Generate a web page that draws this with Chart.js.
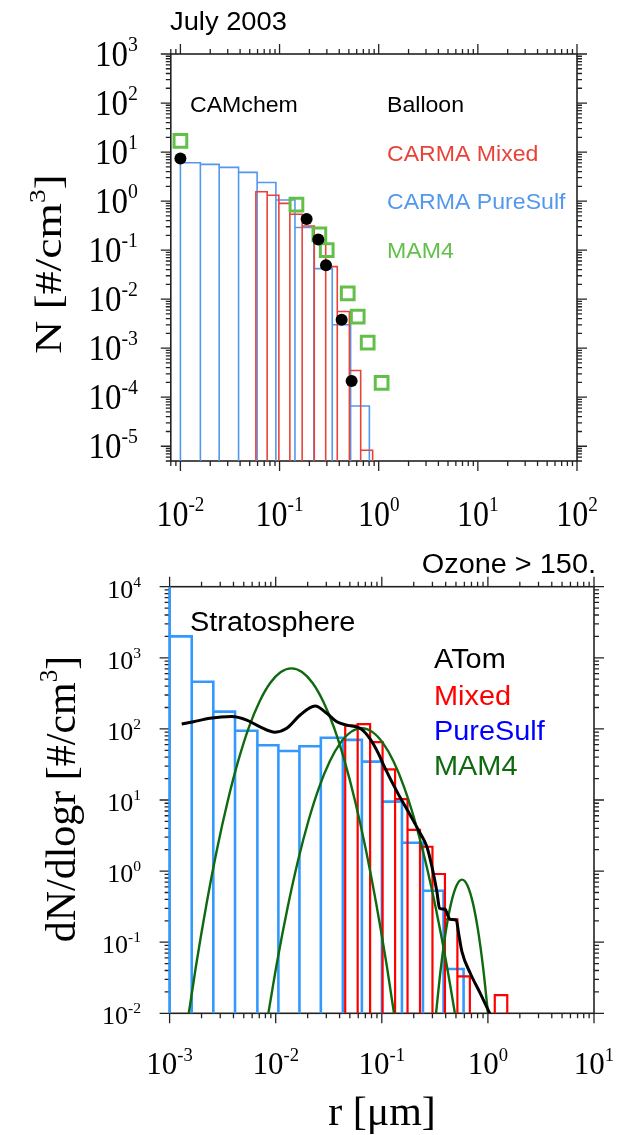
<!DOCTYPE html>
<html>
<head>
<meta charset="utf-8">
<script src="https://cdn.jsdelivr.net/npm/chart.js@4.4.1/dist/chart.umd.min.js"></script>
<style>
  html, body { margin: 0; padding: 0; background: #fff; }
  #wrap { position: relative; width: 623px; height: 1135px; }
  .panel { position: absolute; left: 0; width: 623px; }
  #topBox { top: 0; height: 540px; }
  #botBox { top: 540px; height: 595px; }
</style>
</head>
<body>
<div id="wrap">
  <div class="panel" id="topBox"><canvas id="chartTop"></canvas></div>
  <div class="panel" id="botBox"><canvas id="chartBot"></canvas></div>
</div>
<script>
// ---- July 2003, number per bin (um, #/cm3) ----
const sulfEdgesN = [0.0100, 0.0159, 0.0246, 0.0386, 0.0594, 0.0918, 0.143, 0.222, 0.340, 0.521, 0.805];
const sulfN = [6.05, 5.6, 4.86, 3.85, 2.4, 1.05, 0.29, 0.042, 0.0030, 6.6e-5];
const mixEdgesN = [0.0577, 0.0750, 0.0984, 0.127, 0.169, 0.224, 0.292, 0.382, 0.506, 0.658, 0.869];
const mixN = [1.55, 1.32, 0.90, 0.54, 0.31, 0.137, 0.046, 0.0056, 3.5e-4, 8.3e-6];
const balloonR = [0.01, 0.1875, 0.246, 0.294, 0.423, 0.533];
const balloonN = [7.4, 0.43, 0.165, 0.049, 0.0038, 2.15e-4];
const mam4R = [0.01, 0.148, 0.252, 0.299, 0.487, 0.614, 0.774, 1.07];
const mam4N = [17, 0.85, 0.209, 0.10, 0.0131, 0.0044, 0.0013, 1.96e-4];

// ---- Stratosphere, dN/dlogr (um, #/cm3) ----
const sulfEdgesD = [0.00063, 0.001, 0.001616, 0.002582, 0.004136, 0.006719, 0.0106, 0.01674,
                    0.02663, 0.04293, 0.06489, 0.1002, 0.1548, 0.2443, 0.3819, 0.59];
const sulfD = [20000, 2000, 461, 175, 94, 59, 49, 57, 75, 70, 34.6, 9.5, 2.5, 0.53, 0.042];
const mixEdgesD = [0.04519, 0.05923, 0.07762, 0.1017, 0.1334, 0.1748, 0.2291, 0.3003, 0.3936,
                   0.5158, 0.6761, 0.8861, 1.161, 1.522];
const mixD = [111, 117, 65, 27, 10.3, 3.8, 2.2, 0.91, 0.21, 0.033, 0.006, 0.003, 0.018];
const atomR = [0.0013, 0.00168, 0.0024, 0.00385, 0.00534, 0.00713, 0.00987, 0.0127, 0.017, 0.0235,
               0.0303, 0.0377, 0.0469, 0.0625, 0.0778, 0.093, 0.104, 0.139, 0.185, 0.23, 0.266,
               0.297, 0.331, 0.350, 0.396, 0.417, 0.442, 0.503, 0.530, 0.570, 0.682, 0.847, 1.04];
const atomD = [117, 126, 141, 149, 133, 107, 90, 102, 157, 210,
               166, 126, 113, 102, 72, 45, 31, 13.1, 6.15, 3.4, 2.2,
               1.15, 0.51, 0.30, 0.29, 0.24, 0.21, 0.205, 0.133, 0.073, 0.0366, 0.0191, 0.01];
const aitkenR = [0.001406, 0.00177, 0.002228, 0.002805, 0.003532, 0.004446, 0.005598, 0.007047,
                 0.008872, 0.01117, 0.01406, 0.0177, 0.02228, 0.02805, 0.03532, 0.04446, 0.05598,
                 0.07047, 0.08872, 0.1117, 0.1406];
const aitkenD = [0.0047, 0.0455, 0.345, 2.07, 9.7, 36, 106, 243, 442, 631, 711,
                 631, 442, 243, 106, 36, 9.7, 2.07, 0.345, 0.0455, 0.0047];
const accumR = [0.00813, 0.01023, 0.01288, 0.01622, 0.02042, 0.0257, 0.03236, 0.04074, 0.05129,
                0.06457, 0.08128, 0.1023, 0.1288, 0.1622, 0.2042, 0.257, 0.3236, 0.4074, 0.5129];
const accumD = [0.0065, 0.0495, 0.296, 1.40, 5.19, 15.2, 35, 63.5, 90.8, 102,
                90.8, 63.5, 35, 15.2, 5.19, 1.40, 0.296, 0.0495, 0.0065];
const coarseR = [0.3206, 0.3597, 0.4036, 0.4529, 0.5082, 0.5702, 0.6397, 0.7178, 0.8054, 0.9036, 1.0139];
const coarseD = [0.0084, 0.0425, 0.150, 0.369, 0.634, 0.759, 0.634, 0.369, 0.150, 0.0425, 0.0084];

// decade exponents that get a label
const topXExp = [-2, -1, 0, 1, 2];
const topYExp = [-5, -4, -3, -2, -1, 0, 1, 2, 3];
const botXExp = [-3, -2, -1, 0, 1];
const botYExp = [-2, -1, 0, 1, 2, 3, 4];

const SANS = "'Liberation Sans', Arial, sans-serif";
const SERIF = "'Liberation Serif', 'Times New Roman', serif";

// each bin as an open box whose sides run down past the axis
function binOutline(edges, vals) {
  const pts = [];
  vals.forEach((v, i) => {
    pts.push({x: edges[i], y: 1e-9}, {x: edges[i], y: v}, {x: edges[i + 1], y: v}, {x: edges[i + 1], y: 1e-9});
  });
  return pts;
}
const pairs = (xs, ys) => xs.map((x, i) => ({x, y: ys[i]}));

// text with optional superscript pieces: segs = [[text, isSup], ...]
function rich(ctx, segs, x, y, o) {
  const size = o.size, supSize = size * (o.supScale || 0.6);
  ctx.save();
  ctx.translate(x, y);
  if (o.rot) ctx.rotate(o.rot);
  ctx.scale(o.sx || 1, o.sy || 1);
  ctx.fillStyle = o.color || '#000';
  ctx.textBaseline = 'alphabetic';
  const fontOf = s => (s ? supSize : size) + 'px ' + o.family;
  const widths = segs.map(([t, s]) => { ctx.font = fontOf(s); return ctx.measureText(t).width; });
  const total = widths.reduce((a, b) => a + b, 0);
  let cx = o.align === 'right' ? -total : o.align === 'center' ? -total / 2 : 0;
  const base = size * (o.mid ?? 0.34);
  segs.forEach(([t, s], i) => {
    ctx.font = fontOf(s);
    ctx.fillText(t, cx, s ? base - size * 0.42 : base);
    cx += widths[i];
  });
  ctx.restore();
}
const pow10 = e => [['10', false], [String(e), true]];

function logTicks(min, max) {
  const out = [];
  for (let n = Math.floor(Math.log10(min)); n <= Math.ceil(Math.log10(max)); n++) {
    for (let m = 1; m <= 9; m++) {
      const v = m * Math.pow(10, n);
      if (v >= min * 0.9999 && v <= max * 1.0001) out.push({v, major: m === 1});
    }
  }
  return out;
}

// NCL-like frame: border plus outward ticks on all four sides
function drawFrame(chart) {
  const {ctx, chartArea: a, scales: {x, y}} = chart;
  ctx.save();
  ctx.strokeStyle = '#222';
  ctx.lineWidth = 1.6;
  ctx.strokeRect(a.left, a.top, a.right - a.left, a.bottom - a.top);
  ctx.lineWidth = 1.3;
  ctx.beginPath();
  logTicks(x.min, x.max).forEach(t => {
    const px = x.getPixelForValue(t.v), len = t.major ? 10 : 5;
    ctx.moveTo(px, a.bottom); ctx.lineTo(px, a.bottom + len);
    ctx.moveTo(px, a.top); ctx.lineTo(px, a.top - len);
  });
  logTicks(y.min, y.max).forEach(t => {
    const py = y.getPixelForValue(t.v), len = t.major ? 10 : 5;
    ctx.moveTo(a.left, py); ctx.lineTo(a.left - len, py);
    ctx.moveTo(a.right, py); ctx.lineTo(a.right + len, py);
  });
  ctx.stroke();
  ctx.restore();
}

const topDecor = {
  id: 'topDecor',
  beforeDatasetsDraw(chart) {
    const {ctx, scales: {x, y}} = chart;
    drawFrame(chart);
    topXExp.forEach(e => rich(ctx, pow10(e), x.getPixelForValue(Math.pow(10, e)), 514,
      {size: 32, sy: 1.12, family: SERIF, align: 'center'}));
    topYExp.forEach(e => rich(ctx, pow10(e), 138, y.getPixelForValue(Math.pow(10, e)),
      {size: 33, sy: 1.08, family: SERIF, align: 'right'}));
    rich(ctx, [['N [#/cm', false], ['3', true], [']', false]], 51, 264,
      {size: 38, sx: 1.2, family: SERIF, align: 'center', rot: -Math.PI / 2, mid: 0.26});
    const t = (s, px, py, color, size) =>
      rich(ctx, [[s, false]], px, py, {size: size || 22, sx: 1.05, family: SANS, color, mid: 0.36});
    t('July 2003', 170, 21, '#000', 26);
    t('CAMchem', 190, 104, '#000');
    t('Balloon', 387, 104, '#000');
    t('CARMA Mixed', 387, 153, '#e8433a');
    t('CARMA PureSulf', 387, 201, '#5398ec');
    t('MAM4', 387, 250, '#62c04a');
  }
};

const botDecor = {
  id: 'botDecor',
  beforeDatasetsDraw(chart) {
    const {ctx, scales: {x, y}} = chart;
    drawFrame(chart);
    botXExp.forEach(e => rich(ctx, pow10(e), x.getPixelForValue(Math.pow(10, e)), 523,
      {size: 31, family: SERIF, align: 'center'}));
    botYExp.forEach(e => rich(ctx, pow10(e), 141, y.getPixelForValue(Math.pow(10, e)) + 2,
      {size: 26, family: SERIF, align: 'right'}));
    rich(ctx, [['dN/dlogr [#/cm', false], ['3', true], [']', false]], 64, 259,
      {size: 42, family: SERIF, align: 'center', rot: -Math.PI / 2, mid: 0.26});
    rich(ctx, [['r [\u03bcm]', false]], 382, 573,
      {size: 40, sx: 1.05, family: SERIF, align: 'center', mid: 0.3});
    const t = (s, px, py, color, align) =>
      rich(ctx, [[s, false]], px, py, {size: 27, sx: 1.07, family: SANS, color, align, mid: 0.36});
    t('Ozone > 150.', 596, 23, '#000', 'right');
    t('Stratosphere', 190, 81, '#000');
    t('ATom', 434, 118, '#000');
    t('Mixed', 434, 155, '#ff0000');
    t('PureSulf', 434, 190, '#0000ff');
    t('MAM4', 434, 225, '#0f6a0f');
  }
};

const lineBase = {type: 'line', pointRadius: 0, pointHoverRadius: 0, fill: false, tension: 0,
                  borderJoinStyle: 'miter'};
const common = {
  responsive: true,
  maintainAspectRatio: false,
  animation: false,
  devicePixelRatio: 1,
  events: [],
  plugins: {legend: {display: false}, tooltip: {enabled: false}, title: {display: false}}
};

new Chart(document.getElementById('chartTop'), {
  type: 'line',
  data: {
    datasets: [
      {type: 'line', label: 'Balloon', data: pairs(balloonR, balloonN), showLine: false,
       pointStyle: 'circle', pointRadius: 6, backgroundColor: '#000', borderColor: '#000', borderWidth: 0},
      {type: 'line', label: 'MAM4', data: pairs(mam4R, mam4N), showLine: false,
       pointStyle: 'rect', pointRadius: 9, backgroundColor: 'rgba(0,0,0,0)', borderColor: '#62c04a', borderWidth: 3},
      {...lineBase, label: 'CARMA Mixed', data: binOutline(mixEdgesN, mixN), borderColor: '#e8433a', borderWidth: 1.6},
      {...lineBase, label: 'CARMA PureSulf', data: binOutline(sulfEdgesN, sulfN), borderColor: '#5398ec', borderWidth: 1.6}
    ]
  },
  options: {
    ...common,
    layout: {padding: {left: 170.8, right: 46, top: 54, bottom: 79}},
    scales: {
      x: {type: 'logarithmic', min: 0.008, max: 100, display: false},
      y: {type: 'logarithmic', min: 5e-6, max: 1000, display: false}
    }
  },
  plugins: [topDecor]
});

new Chart(document.getElementById('chartBot'), {
  type: 'line',
  data: {
    datasets: [
      {...lineBase, label: 'ATom', data: pairs(atomR, atomD), borderColor: '#000', borderWidth: 3,
       cubicInterpolationMode: 'monotone'},
      {...lineBase, label: 'MAM4 Aitken', data: pairs(aitkenR, aitkenD), borderColor: '#0f6a0f', borderWidth: 2.4,
       cubicInterpolationMode: 'monotone'},
      {...lineBase, label: 'MAM4 accumulation', data: pairs(accumR, accumD), borderColor: '#0f6a0f', borderWidth: 2.4,
       cubicInterpolationMode: 'monotone'},
      {...lineBase, label: 'MAM4 coarse', data: pairs(coarseR, coarseD), borderColor: '#0f6a0f', borderWidth: 2.4,
       cubicInterpolationMode: 'monotone'},
      {...lineBase, label: 'Mixed', data: binOutline(mixEdgesD, mixD), borderColor: '#ff0000', borderWidth: 2.2},
      {...lineBase, label: 'PureSulf', data: binOutline(sulfEdgesD, sulfD), borderColor: '#3399ff', borderWidth: 2.6,
       clip: {left: 3, top: 0, right: 0, bottom: 0}}
    ]
  },
  options: {
    ...common,
    layout: {padding: {left: 169.6, right: 29, top: 46.7, bottom: 121.7}},
    scales: {
      x: {type: 'logarithmic', min: 0.001, max: 10, display: false},
      y: {type: 'logarithmic', min: 0.01, max: 10000, display: false}
    }
  },
  plugins: [botDecor]
});
</script>
</body>
</html>
